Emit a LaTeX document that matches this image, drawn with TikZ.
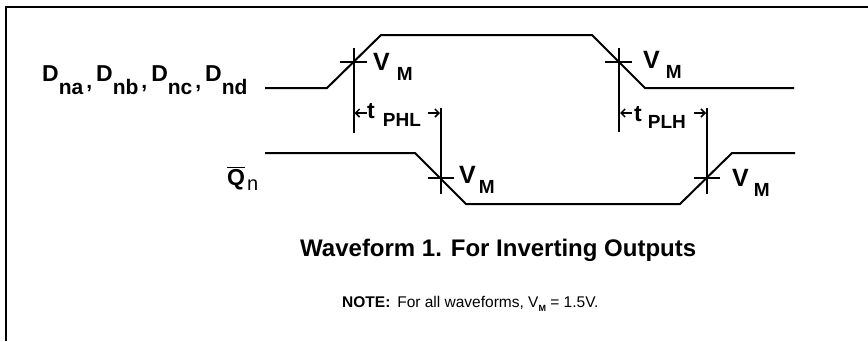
\documentclass[tikz,border=0pt]{standalone}
\usepackage{fontspec}
\setmainfont{Liberation Sans}
\usetikzlibrary{arrows.meta}
\tikzset{
    wave/.style = {line width = 2pt, line join = miter},
    mark line/.style = {line width = 2pt},
    span/.style = {line width = 1.5pt, -{Straight Barb[length = 4pt, width = 8pt]}},
    vlabel/.style = {anchor = base west, inner sep = 0pt, font = \bfseries\fontsize{25}{25}\selectfont},
    tlabel/.style = {anchor = base west, inner sep = 0pt, font = \bfseries\fontsize{23}{23}\selectfont}
}
% size, drop, text
\newcommand{\subtext}[3]{\raisebox{-#2pt}{\fontsize{#1}{#1}\selectfont #3}}
\newcommand{\vmlabel}[1]{V\kern#1pt\subtext{19}{10}{M}}
\newcommand{\dcomma}{\kern3pt\subtext{21}{7}{,}\kern4pt}
\begin{document}
\begin{tikzpicture}[x = 1pt, y = -1pt]
        \useasboundingbox (0, 0) rectangle (868, 341);
        % frame
        \draw[line width = 1.5pt] (6, 341) -- (6, 7) -- (868, 7);

        % input and output waveforms
        \draw[wave] (265, 88) -- (327, 88) -- (381, 35) -- (592, 35) -- (645, 88) -- (794, 88);
        \draw[wave] (265, 153) -- (415, 153) -- (466, 204) -- (680, 204) -- (732, 153) -- (795, 153);

        % crossing marks
        \draw[mark line] (353.5, 48) -- (353.5, 133);
        \draw[mark line] (340, 62) -- (367, 62);
        \draw[mark line] (619, 48) -- (619, 132);
        \draw[mark line] (605, 62) -- (632, 62);
        \draw[mark line] (441, 108) -- (441, 194);
        \draw[mark line] (428, 178) -- (454, 178);
        \draw[mark line] (707, 108) -- (707, 194);
        \draw[mark line] (694, 178) -- (720, 178);

        % propagation delay arrows
        \coordinate (phlstart) at (354.5, 113);
        \coordinate (phlend) at (440, 113);
        \coordinate (plhstart) at (620, 113);
        \coordinate (plhend) at (706, 113);
        \draw[span] ([xshift = 12pt]phlstart) -- (phlstart);
        \draw[span] ([xshift = -12pt]phlend) -- (phlend);
        \draw[span] ([xshift = 12pt]plhstart) -- (plhstart);
        \draw[span] ([xshift = -12pt]plhend) -- (plhend);

        % labels
        \node[vlabel, font = \bfseries\fontsize{23}{23}\selectfont] (dnames) at (42, 81) {D\subtext{21}{13}{na}\dcomma D\subtext{21}{13}{nb}\dcomma D\subtext{21}{13}{nc}\dcomma D\subtext{21}{13}{nd}};
        \node[vlabel, font = \bfseries\fontsize{23}{23}\selectfont] (qname) at (227, 185) {$\overline{\hbox{Q}}$\kern2pt\subtext{20}{5}{\mdseries n}};
        \node[vlabel] (vmone) at (373, 70) {\vmlabel{7}};
        \node[vlabel] (vmtwo) at (643, 68) {\vmlabel{6}};
        \node[vlabel] (vmthree) at (459, 183) {\vmlabel{3}};
        \node[vlabel] (vmfour) at (732, 186) {\vmlabel{5}};
        \node[tlabel] (tphl) at (367, 118) {t\kern8pt\subtext{19}{8}{PHL}};
        \node[tlabel] (tplh) at (634, 121) {t\kern6pt\subtext{19}{7}{PLH}};

        \node[anchor = base west, inner sep = 0pt, font = \bfseries\fontsize{24}{24}\selectfont] (title) at (300, 256) {Waveform 1. For Inverting Outputs};
        \node[anchor = base west, inner sep = 0pt, font = \fontsize{15.5}{15.5}\selectfont] (note) at (342, 307) {\textbf{NOTE:}\, For all waveforms, V\subtext{9}{4}{\textbf{M}} = 1.5V.};

    \end{tikzpicture}
\end{document}
